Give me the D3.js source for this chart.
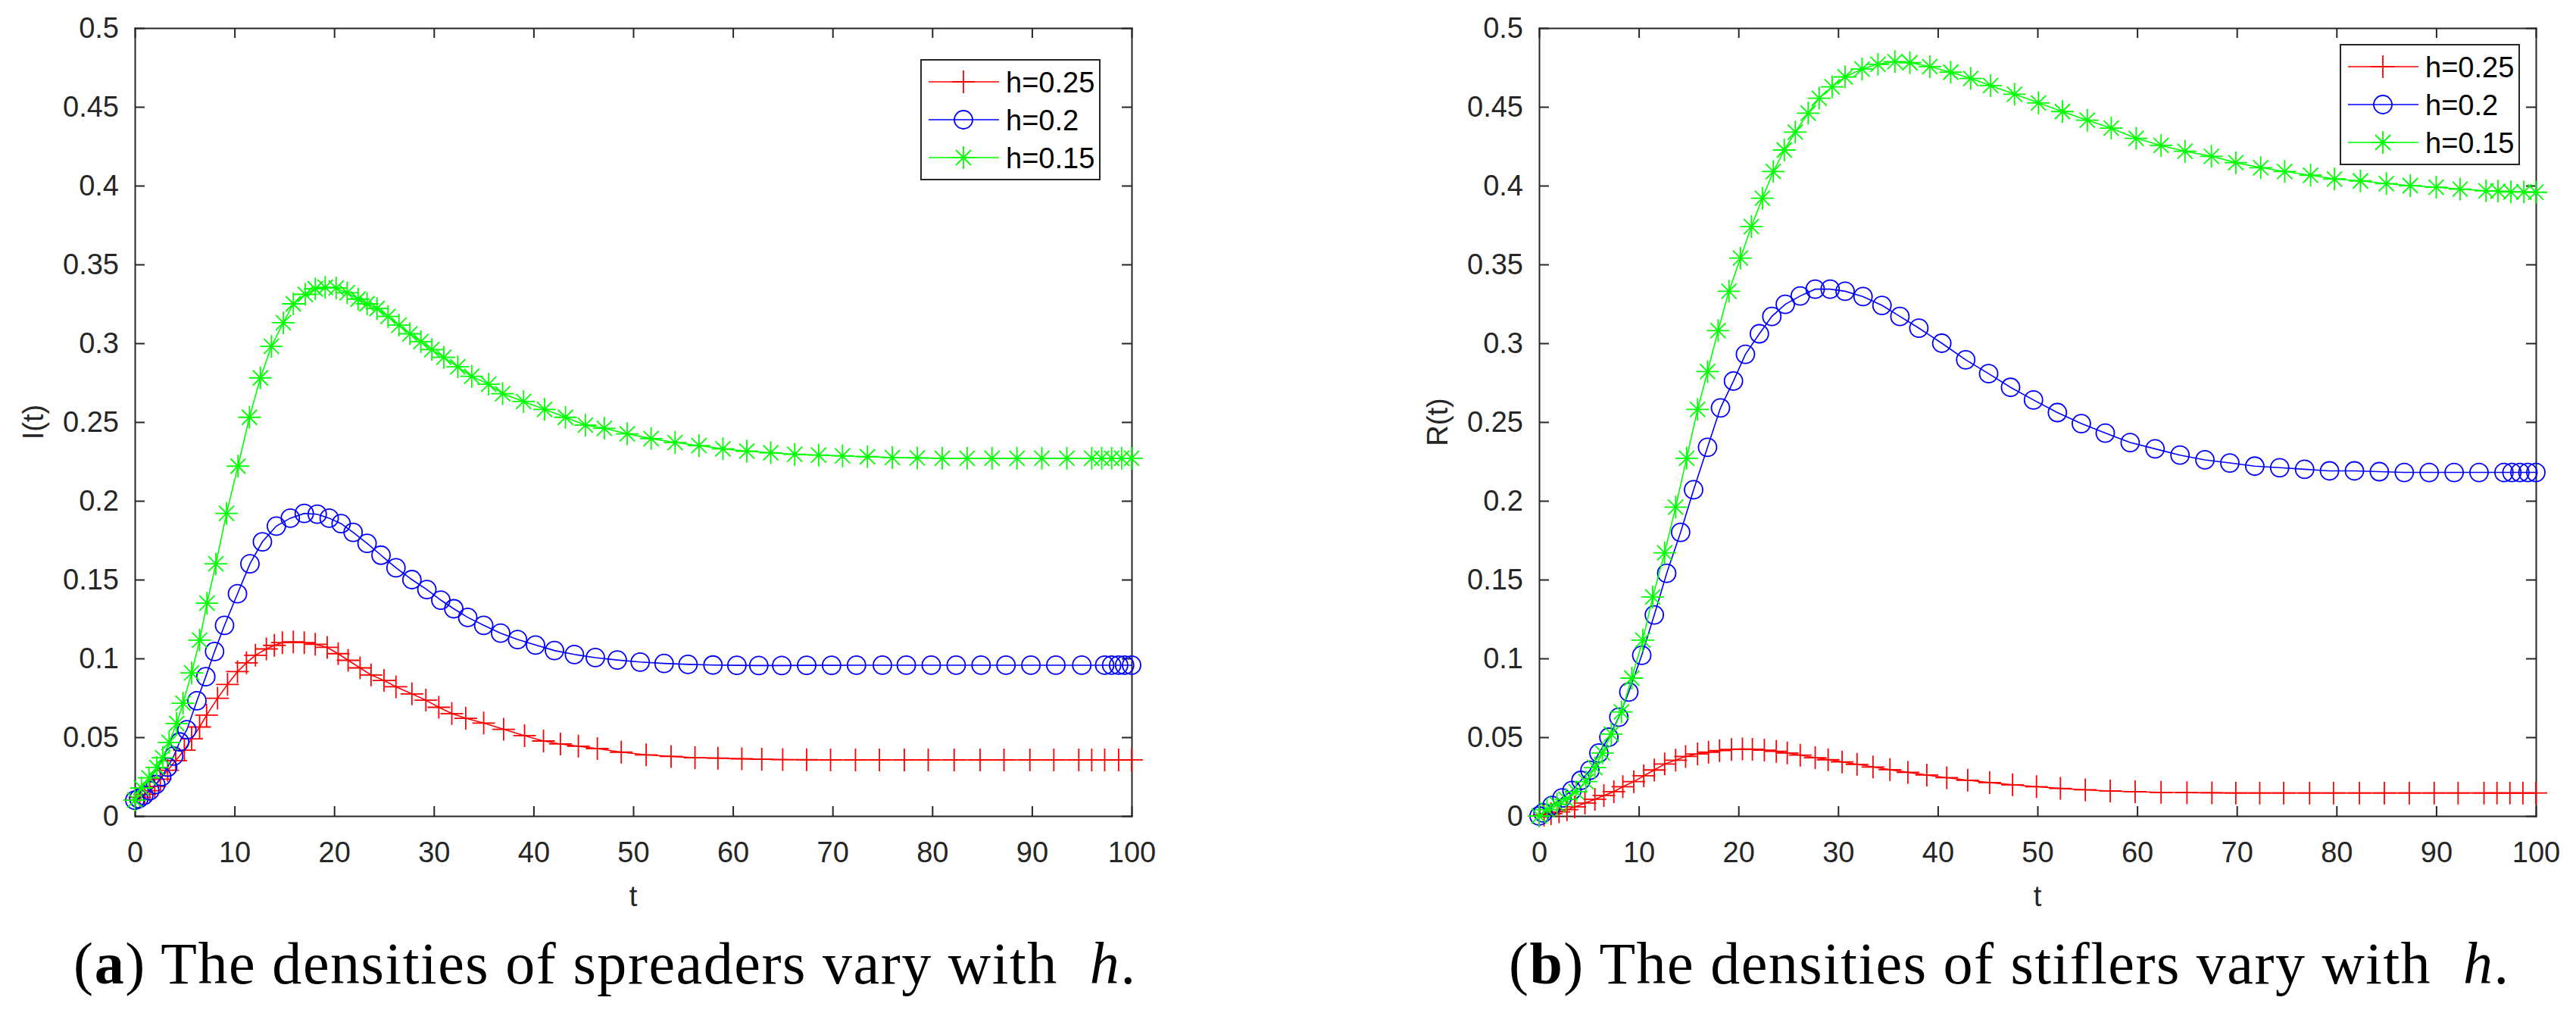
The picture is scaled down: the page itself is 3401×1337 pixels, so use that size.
<!DOCTYPE html>
<html>
<head>
<meta charset="utf-8">
<script src="https://cdn.jsdelivr.net/npm/d3@7"></script>
<style>
  body { margin: 0; background: #fff; }
</style>
</head>
<body>
<div id="chart-area"></div>
<script>
// tick labels
const xTicks = [0, 10, 20, 30, 40, 50, 60, 70, 80, 90, 100];
const yTicks = [0, 0.05, 0.1, 0.15, 0.2, 0.25, 0.3, 0.35, 0.4, 0.45, 0.5];

const seriesNames = ["h=0.25", "h=0.2", "h=0.15"];
const seriesColors = ["#ff0000", "#0000ff", "#00ff00"];
const seriesMarkers = ["plus", "circle", "star"];

// (a) spreaders I(t)
const tI25 = [0,0.5,1.0,1.5,2.0,2.56,3.3,4.1,4.97,5.7,6.5,7.2,8.3,9.3,10.3,11.2,12.1,13.2,14.0,14.8,15.9,17.0,18.1,19.3,20.4,21.4,22.6,23.7,25.0,26.2,27.8,29.2,30.5,31.8,33.2,35.0,37.0,39.1,41.0,42.7,44.5,46.4,48.8,51.3,53.8,56.2,58.5,60.9,62.9,65.0,67.4,69.8,72.3,74.7,77.2,79.6,82.2,84.8,87.2,89.8,92.2,94.7,96.0,97.3,98.7,100];
const I25 = [0.0100,0.0118,0.0138,0.0160,0.0188,0.0234,0.0290,0.0352,0.0418,0.0490,0.0565,0.0640,0.0747,0.0835,0.0916,0.0972,0.1020,0.1060,0.1083,0.1100,0.1105,0.1100,0.1090,0.1070,0.1030,0.0988,0.0940,0.0895,0.0860,0.0820,0.0775,0.0735,0.0690,0.0650,0.0620,0.0590,0.0550,0.0510,0.0476,0.0457,0.0443,0.0428,0.0405,0.0388,0.0378,0.0370,0.0367,0.0363,0.0360,0.0358,0.0357,0.0356,0.0356,0.0356,0.0356,0.0356,0.0356,0.0356,0.0356,0.0356,0.0356,0.0356,0.0356,0.0356,0.0356,0.0356];

const tI20 = [0,0.4,0.9,1.5,2.1,2.7,3.3,3.9,4.5,5.22,6.23,7.12,8.0,9.0,10.3,11.55,12.8,14.2,15.6,17.0,18.3,19.5,20.7,21.9,23.3,24.7,26.2,27.8,29.3,30.7,32.0,33.4,35.0,36.7,38.4,40.2,42.1,44.1,46.2,48.4,50.7,53.1,55.5,58.0,60.4,62.6,64.9,67.4,69.9,72.4,75.0,77.4,79.9,82.4,84.9,87.4,89.9,92.4,95.0,97.3,98.0,98.7,99.3,100];
const I20 = [0.0100,0.0110,0.0130,0.0160,0.0200,0.0250,0.0310,0.0380,0.0470,0.0547,0.0731,0.0884,0.1044,0.1210,0.1410,0.1600,0.1740,0.1840,0.1890,0.1920,0.1915,0.1890,0.1855,0.1800,0.1730,0.1655,0.1575,0.1500,0.1437,0.1370,0.1315,0.1260,0.1210,0.1160,0.1120,0.1085,0.1050,0.1025,0.1005,0.0990,0.0977,0.0968,0.0962,0.0958,0.0956,0.0955,0.0955,0.0956,0.0956,0.0957,0.0957,0.0957,0.0957,0.0957,0.0957,0.0957,0.0957,0.0957,0.0957,0.0957,0.0957,0.0957,0.0957,0.0957];

const tI15 = [0,0.66,1.42,2.2,2.8,3.44,4.2,4.84,5.7,6.5,7.24,8.13,9.2,10.35,11.5,12.6,13.7,14.9,15.9,17.1,18.1,19.1,20.2,21.3,22.4,23.3,24.3,25.4,26.5,27.6,28.7,29.8,31.0,32.4,33.8,35.5,36.9,39.0,41.1,43.2,45.2,47.1,49.4,51.8,54.2,56.6,59.0,61.4,63.8,66.2,68.6,71.0,73.5,76.0,78.5,81.0,83.5,86.0,88.5,91.0,93.5,96.0,97.0,98.0,99.0,100];
const I15 = [0.0100,0.0178,0.0242,0.0308,0.0370,0.0467,0.0587,0.0716,0.0908,0.1116,0.1350,0.1600,0.1920,0.2220,0.2530,0.2780,0.2980,0.3130,0.3250,0.3310,0.3345,0.3355,0.3350,0.3320,0.3280,0.3250,0.3220,0.3170,0.3115,0.3060,0.3010,0.2960,0.2910,0.2850,0.2790,0.2740,0.2680,0.2630,0.2580,0.2530,0.2480,0.2460,0.2425,0.2395,0.2370,0.2350,0.2330,0.2315,0.2305,0.2295,0.2290,0.2285,0.2280,0.2275,0.2272,0.2270,0.2270,0.2270,0.2270,0.2270,0.2270,0.2270,0.2270,0.2270,0.2270,0.2270];

// (b) stiflers R(t)
const tR25 = [0,0.5,1.2,2.0,2.8,3.57,4.6,5.6,6.5,7.5,8.4,9.5,10.5,11.56,12.6,13.7,14.7,15.9,17.0,18.1,19.3,20.4,21.4,22.6,23.8,24.9,26.2,27.7,29.0,30.4,31.9,33.5,35.2,37.0,38.9,40.9,43.0,45.2,47.5,49.9,52.3,54.8,57.3,59.8,62.4,65.0,67.5,69.9,72.3,74.7,77.3,79.7,82.3,84.8,87.3,89.8,92.2,94.8,96.1,97.4,98.7,100];
const R25 = [0,0.0006,0.0015,0.0026,0.0040,0.0058,0.0082,0.0106,0.0130,0.0154,0.0186,0.0218,0.0255,0.0292,0.0330,0.0354,0.0378,0.0394,0.0405,0.0415,0.0422,0.0425,0.0423,0.0418,0.0410,0.0400,0.0386,0.0370,0.0357,0.0343,0.0328,0.0311,0.0294,0.0277,0.0260,0.0243,0.0227,0.0212,0.0198,0.0186,0.0175,0.0166,0.0159,0.0154,0.0150,0.0148,0.0147,0.0146,0.0146,0.0146,0.0146,0.0146,0.0146,0.0146,0.0146,0.0146,0.0146,0.0146,0.0146,0.0146,0.0146,0.0146];

const tR20 = [0,0.4,1.3,2.3,3.3,4.2,5.1,6.0,7.0,8.0,9.0,10.3,11.56,12.8,14.2,15.5,16.9,18.2,19.5,20.7,22.1,23.35,24.7,26.2,27.7,29.2,30.7,32.5,34.4,36.2,38.1,40.4,42.8,45.1,47.3,49.6,52.0,54.4,56.8,59.3,61.8,64.3,66.8,69.3,71.8,74.3,76.8,79.3,81.8,84.3,86.8,89.3,91.8,94.3,96.8,97.6,98.4,99.2,100];
const R20 = [0,0.0020,0.0067,0.0115,0.0162,0.0226,0.0290,0.0400,0.0500,0.0627,0.0787,0.1020,0.1276,0.1540,0.1800,0.2070,0.2340,0.2590,0.2760,0.2930,0.3060,0.3170,0.3247,0.3300,0.3343,0.3343,0.3330,0.3296,0.3240,0.3170,0.3096,0.3000,0.2895,0.2807,0.2720,0.2640,0.2560,0.2490,0.2430,0.2370,0.2330,0.2290,0.2260,0.2240,0.2220,0.2210,0.2200,0.2190,0.2190,0.2185,0.2180,0.2180,0.2180,0.2180,0.2180,0.2180,0.2180,0.2180,0.2180];

const tR15 = [0,0.8,1.8,2.7,3.7,4.7,5.6,6.36,7.25,8.26,9.3,10.4,11.4,12.6,13.7,14.8,15.9,16.9,17.96,19.05,20.2,21.3,22.4,23.5,24.6,25.7,27.0,28.1,29.4,30.7,32.4,34.0,35.7,37.2,39.2,41.3,43.3,45.3,47.7,50.1,52.5,55.0,57.4,59.9,62.4,64.8,67.45,69.9,72.4,74.8,77.4,79.8,82.4,85.0,87.4,90.0,92.4,95.0,96.2,97.5,98.8,100];
const R15 = [0,0.0040,0.0074,0.0106,0.0154,0.0218,0.0307,0.0400,0.0520,0.0660,0.0875,0.1116,0.1390,0.1670,0.1960,0.2270,0.2580,0.2820,0.3080,0.3330,0.3540,0.3740,0.3920,0.4090,0.4226,0.4340,0.4460,0.4555,0.4627,0.4690,0.4740,0.4770,0.4787,0.4780,0.4755,0.4720,0.4680,0.4635,0.4580,0.4525,0.4470,0.4415,0.4365,0.4300,0.4255,0.4218,0.4186,0.4146,0.4114,0.4090,0.4066,0.4042,0.4030,0.4013,0.4000,0.3990,0.3978,0.3967,0.3965,0.3960,0.3960,0.3958];

const W = 3401, H = 1337;
const axisColor = "#262626";
const tickFont = '"Liberation Sans", Arial, Helvetica, sans-serif';
const capFont = '"Liberation Serif", "Times New Roman", serif';

let svg = d3.select("#chart-area")
  .append("svg")
  .attr("width", W)
  .attr("height", H);

svg.append("rect").attr("width", W).attr("height", H).attr("fill", "#fff");

function zip(ts, vs) {
  return ts.map(function(t, i) { return {t: t, v: vs[i]}; });
}

function markerPath(type, x, y) {
  if (type === "plus")
    return "M" + (x - 15) + "," + y + "H" + (x + 15) + "M" + x + "," + (y - 15) + "V" + (y + 15);
  // asterisk
  return "M" + (x - 15) + "," + y + "H" + (x + 15) + "M" + x + "," + (y - 15) + "V" + (y + 15) +
    "M" + (x - 10) + "," + (y - 10) + "L" + (x + 10) + "," + (y + 10) +
    "M" + (x - 10) + "," + (y + 10) + "L" + (x + 10) + "," + (y - 10);
}

function drawMarkers(g, pts, type, color, x, y) {
  if (type === "circle") {
    g.selectAll(null).data(pts).enter().append("circle")
      .attr("cx", function(d) { return x(d.t); })
      .attr("cy", function(d) { return y(d.v); })
      .attr("r", 12)
      .attr("fill", "none")
      .attr("stroke", color)
      .attr("stroke-width", 1.8);
  } else {
    g.selectAll(null).data(pts).enter().append("path")
      .attr("d", function(d) { return markerPath(type, x(d.t), y(d.v)); })
      .attr("fill", "none")
      .attr("stroke", color)
      .attr("stroke-width", 1.8);
  }
}

function styleAxis(g) {
  g.attr("font-family", tickFont).attr("font-size", 38);
  g.selectAll("path, line").attr("stroke", axisColor).attr("stroke-width", 2);
  g.select(".domain").attr("stroke-linecap", "square");
  g.selectAll("text").attr("fill", axisColor);
}

function drawPanel(p) {
  let x = d3.scaleLinear().domain([0, 100]).range([p.left, p.right]);
  let y = d3.scaleLinear().domain([0, 0.5]).range([p.bottom, p.top]);

  let g = svg.append("g");

  // box with inward ticks on all four sides
  g.append("g").attr("transform", "translate(0," + p.bottom + ")")
    .call(d3.axisBottom(x).tickValues(xTicks).tickSizeInner(-13).tickSizeOuter(0).tickPadding(34))
    .call(styleAxis);
  g.append("g").attr("transform", "translate(" + p.left + ",0)")
    .call(d3.axisLeft(y).tickValues(yTicks).tickSizeInner(-13).tickSizeOuter(0).tickPadding(21)
      .tickFormat(function(d) { return String(d); }))
    .call(styleAxis);
  g.append("g").attr("transform", "translate(0," + p.top + ")")
    .call(d3.axisTop(x).tickValues(xTicks).tickSizeInner(-13).tickSizeOuter(0).tickFormat(""))
    .call(styleAxis);
  g.append("g").attr("transform", "translate(" + p.right + ",0)")
    .call(d3.axisRight(y).tickValues(yTicks).tickSizeInner(-13).tickSizeOuter(0).tickFormat(""))
    .call(styleAxis);

  // axis labels
  g.append("text")
    .attr("x", (p.left + p.right) / 2)
    .attr("y", 1196)
    .attr("text-anchor", "middle")
    .attr("font-family", tickFont)
    .attr("font-size", 38)
    .attr("fill", axisColor)
    .text("t");
  g.append("text")
    .attr("transform", "translate(" + (p.left - 121) + "," + ((p.top + p.bottom) / 2) + ") rotate(-90)")
    .attr("text-anchor", "middle")
    .attr("font-family", tickFont)
    .attr("font-size", 38)
    .attr("fill", axisColor)
    .text(p.ylabel);

  // lines and markers
  let line = d3.line().x(function(d) { return x(d.t); }).y(function(d) { return y(d.v); });
  p.series.forEach(function(s, i) {
    let pts = zip(s[0], s[1]);
    let sg = g.append("g");
    sg.append("path").datum(pts)
      .attr("d", line)
      .attr("fill", "none")
      .attr("stroke", seriesColors[i])
      .attr("stroke-width", 1.6);
    drawMarkers(sg, pts, seriesMarkers[i], seriesColors[i], x, y);
  });

  // legend
  let lg = g.append("g").attr("transform", "translate(" + p.legX + "," + p.legY + ")");
  lg.append("rect")
    .attr("width", 236).attr("height", 158)
    .attr("fill", "#fff")
    .attr("stroke", axisColor)
    .attr("stroke-width", 2);
  seriesNames.forEach(function(name, i) {
    let ry = 29 + i * 50;
    lg.append("line")
      .attr("x1", 10).attr("x2", 103).attr("y1", ry).attr("y2", ry)
      .attr("stroke", seriesColors[i]).attr("stroke-width", 1.6);
    let mx = d3.scaleLinear().domain([0, 1]).range([56, 57]);
    let my = d3.scaleLinear().domain([0, 1]).range([ry, ry + 1]);
    drawMarkers(lg, [{t: 0, v: 0}], seriesMarkers[i], seriesColors[i], mx, my);
    lg.append("text")
      .attr("x", 112).attr("y", ry + 14)
      .attr("font-family", tickFont)
      .attr("font-size", 38)
      .attr("fill", "#000")
      .text(name);
  });

  // caption
  let cap = svg.append("text")
    .attr("x", p.capX)
    .attr("y", 1298)
    .attr("text-anchor", "middle")
    .attr("font-family", capFont)
    .attr("font-size", 78)
    .attr("fill", "#000")
    .style("white-space", "pre");
  cap.append("tspan").text("(");
  cap.append("tspan").attr("font-weight", "bold").text(p.capLetter);
  cap.append("tspan").text(") " + p.capText + "  ");
  cap.append("tspan").attr("font-style", "italic").text("h");
  cap.append("tspan").text(".");
  // the original uses a wider book face; stretch the spacing a little
  let natural = cap.node().getComputedTextLength();
  cap.attr("textLength", natural * 1.05).attr("lengthAdjust", "spacing");
}

drawPanel({
  left: 178, right: 1494, top: 37, bottom: 1077,
  ylabel: "I(t)",
  series: [[tI25, I25], [tI20, I20], [tI15, I15]],
  legX: 1216, legY: 79,
  capX: 798, capLetter: "a",
  capText: "The densities of spreaders vary with"
});

drawPanel({
  left: 2032, right: 3348, top: 37, bottom: 1077,
  ylabel: "R(t)",
  series: [[tR25, R25], [tR20, R20], [tR15, R15]],
  legX: 3090, legY: 59,
  capX: 2652, capLetter: "b",
  capText: "The densities of stiflers vary with"
});
</script>
</body>
</html>
